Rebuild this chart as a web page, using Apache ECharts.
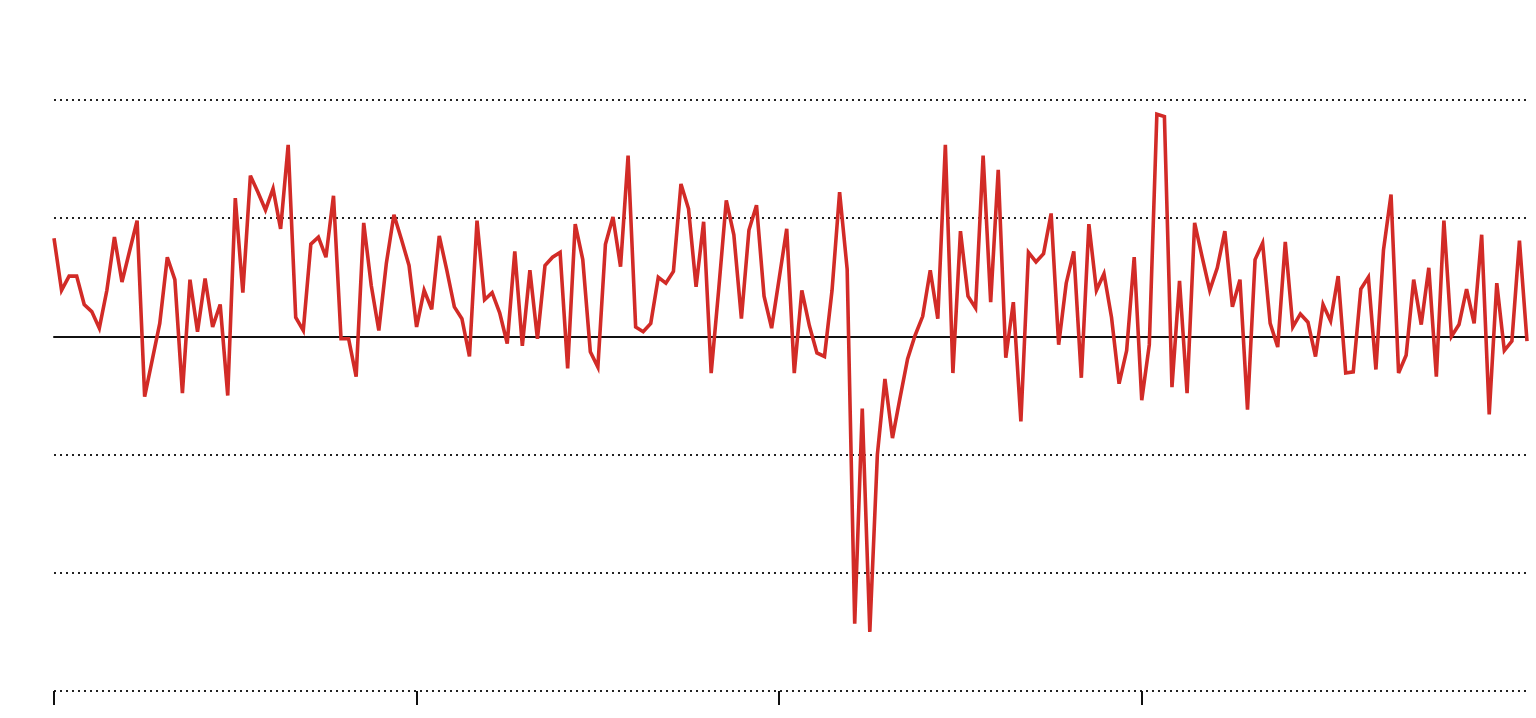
<!DOCTYPE html>
<html>
<head>
<meta charset="utf-8">
<script src="https://cdn.jsdelivr.net/npm/echarts@6/dist/echarts.min.js"></script>
<style>
html,body{margin:0;padding:0;background:#fff;}
#chart{width:1536px;height:718px;}
</style>
</head>
<body>
<div id="chart"></div>
<script>
// Series values (one per period, 196 periods)
const values = [
  0.83, 0.39, 0.51, 0.51, 0.27, 0.21, 0.07, 0.39, 0.84, 0.46,
  0.72, 0.98, -0.51, -0.20, 0.11, 0.67, 0.48, -0.48, 0.48, 0.04,
  0.49, 0.08, 0.27, -0.50, 1.17, 0.37, 1.36, 1.22, 1.07, 1.25,
  0.91, 1.62, 0.16, 0.05, 0.78, 0.84, 0.67, 1.19, -0.02, -0.02,
  -0.34, 0.96, 0.43, 0.05, 0.62, 1.03, 0.82, 0.60, 0.08, 0.39,
  0.23, 0.85, 0.56, 0.25, 0.15, -0.17, 0.98, 0.31, 0.37, 0.20,
  -0.06, 0.72, -0.08, 0.56, -0.02, 0.60, 0.67, 0.71, -0.27, 0.95,
  0.65, -0.13, -0.26, 0.78, 1.01, 0.59, 1.53, 0.08, 0.04, 0.11,
  0.50, 0.45, 0.55, 1.29, 1.08, 0.42, 0.97, -0.31, 0.40, 1.15,
  0.86, 0.15, 0.90, 1.11, 0.34, 0.07, 0.49, 0.91, -0.31, 0.39,
  0.09, -0.14, -0.17, 0.39, 1.22, 0.57, -2.43, -0.61, -2.50, -1.00,
  -0.36, -0.86, -0.52, -0.19, 0.01, 0.17, 0.56, 0.15, 1.62, -0.31,
  0.89, 0.34, 0.24, 1.53, 0.29, 1.41, -0.18, 0.29, -0.72, 0.71,
  0.63, 0.70, 1.04, -0.07, 0.45, 0.72, -0.35, 0.95, 0.39, 0.53,
  0.16, -0.40, -0.12, 0.67, -0.54, -0.07, 1.88, 1.86, -0.43, 0.47,
  -0.48, 0.96, 0.67, 0.39, 0.58, 0.89, 0.25, 0.48, -0.62, 0.65,
  0.79, 0.11, -0.09, 0.80, 0.08, 0.19, 0.12, -0.17, 0.27, 0.13,
  0.51, -0.31, -0.30, 0.40, 0.50, -0.28, 0.73, 1.20, -0.31, -0.16,
  0.48, 0.10, 0.58, -0.34, 0.98, 0.00, 0.10, 0.40, 0.11, 0.86,
  -0.66, 0.45, -0.12, -0.04, 0.81, -0.04
];
// Period categories (no labels are shown in the chart)
const categories = values.map((_, i) => String(i + 1));
// Category indices that carry a tick mark on the bottom axis
const tickIndices = [0, 48, 96, 144];
// Y axis gridline values
const yTicks = [-3, -2, -1, 0, 1, 2];

const chart = echarts.init(document.getElementById('chart'), null, {renderer: 'canvas'});
chart.setOption({
  animation: false,
  backgroundColor: '#ffffff',
  grid: {left: 54, right: 9, top: 100, bottom: 27, containLabel: false},
  xAxis: [
    {
      type: 'category',
      data: categories,
      boundaryGap: false,
      position: 'bottom',
      axisLine: {show: false, onZero: false},
      axisTick: {
        show: true,
        length: 14,
        interval: (idx) => tickIndices.indexOf(idx) >= 0,
        lineStyle: {color: '#111', width: 2}
      },
      axisLabel: {show: false},
      splitLine: {show: false}
    },
    {
      type: 'category',
      data: categories,
      boundaryGap: false,
      position: 'bottom',
      axisLine: {show: true, onZero: true, lineStyle: {color: '#111', width: 2}},
      axisTick: {show: false},
      axisLabel: {show: false},
      splitLine: {show: false}
    }
  ],
  yAxis: {
    type: 'value',
    min: yTicks[0],
    max: yTicks[yTicks.length - 1],
    interval: 1,
    axisLine: {show: false},
    axisTick: {show: false},
    axisLabel: {show: false},
    splitLine: {show: true, lineStyle: {color: '#222', width: 2, type: [2, 4]}}
  },
  series: [{
    type: 'line',
    xAxisIndex: 0,
    data: values,
    showSymbol: false,
    symbol: 'none',
    z: 5,
    lineStyle: {color: '#d22b27', width: 3.6, join: 'miter', miterLimit: 4}
  }]
});
</script>
</body>
</html>
